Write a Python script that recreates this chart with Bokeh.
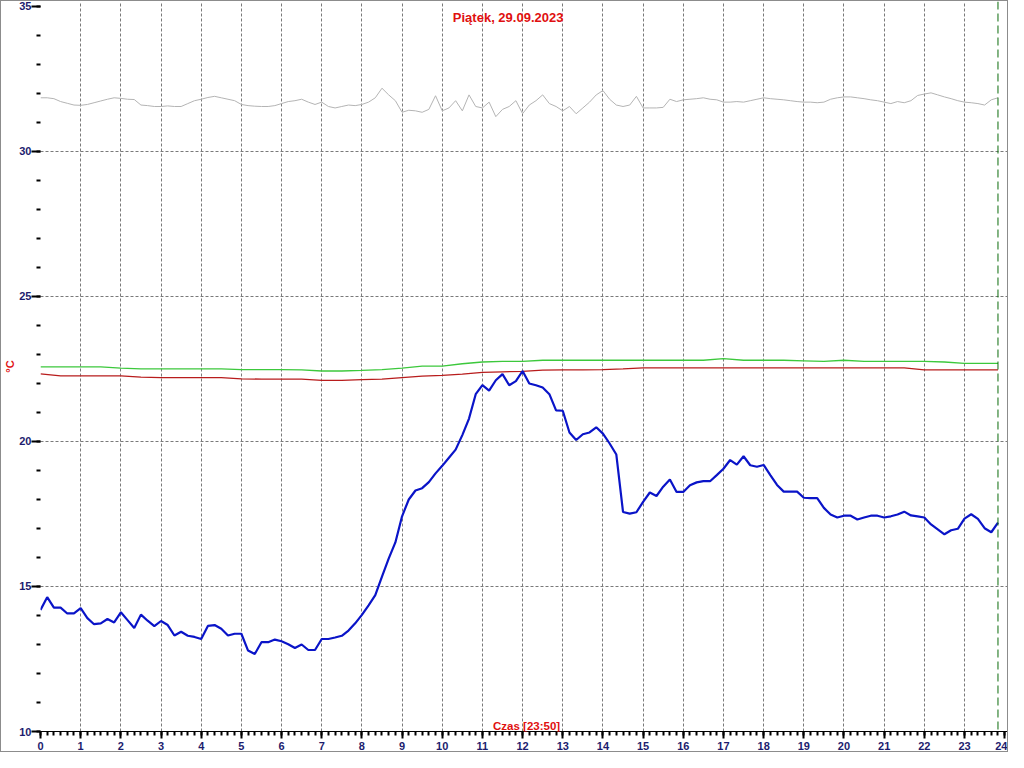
from bokeh.plotting import figure
from bokeh.models import SingleIntervalTicker, FixedTicker, Span, Label, Range1d, Grid
from bokeh.embed import file_html
from bokeh.resources import INLINE

# ---- data -------------------------------------------------------------
# 10-minute readings, 00:00 .. 23:50
times = [i / 6 for i in range(144)]

blue_temp = [
    14.19, 14.63, 14.27, 14.27, 14.07, 14.07,
    14.25, 13.91, 13.70, 13.73, 13.88, 13.76,
    14.11, 13.84, 13.57, 14.03, 13.82, 13.63,
    13.81, 13.67, 13.31, 13.44, 13.30, 13.26,
    13.19, 13.64, 13.67, 13.54, 13.31, 13.37,
    13.37, 12.79, 12.67, 13.08, 13.08, 13.17,
    13.11, 13.01, 12.88, 13.00, 12.81, 12.81,
    13.19, 13.19, 13.24, 13.30, 13.48, 13.73,
    14.02, 14.35, 14.70, 15.34, 15.96, 16.52,
    17.42, 18.00, 18.31, 18.39, 18.60, 18.90,
    19.16, 19.44, 19.72, 20.22, 20.79, 21.63,
    21.94, 21.75, 22.11, 22.32, 21.94, 22.08,
    22.43, 22.00, 21.94, 21.86, 21.63, 21.07,
    21.06, 20.31, 20.05, 20.25, 20.31, 20.49,
    20.27, 19.93, 19.55, 17.57, 17.51, 17.56,
    17.92, 18.24, 18.12, 18.44, 18.69, 18.26,
    18.26, 18.49, 18.59, 18.63, 18.63, 18.84,
    19.06, 19.36, 19.20, 19.49, 19.18, 19.13,
    19.19, 18.84, 18.50, 18.27, 18.27, 18.27,
    18.06, 18.05, 18.05, 17.71, 17.48, 17.38,
    17.44, 17.44, 17.31, 17.38, 17.44, 17.44,
    17.38, 17.42, 17.48, 17.58, 17.45, 17.42,
    17.38, 17.14, 16.97, 16.80, 16.94, 16.99,
    17.34, 17.49, 17.33, 17.01, 16.87, 17.20,
]

gray_temp = [
    31.85, 31.85, 31.82, 31.72, 31.66, 31.60,
    31.59, 31.62, 31.68, 31.74, 31.80, 31.85,
    31.83, 31.80, 31.79, 31.60, 31.58, 31.55,
    31.55, 31.57, 31.55, 31.55, 31.65, 31.75,
    31.80, 31.86, 31.90, 31.85, 31.80, 31.75,
    31.62, 31.58, 31.56, 31.55, 31.55, 31.58,
    31.65, 31.72, 31.75, 31.80, 31.70, 31.62,
    31.70, 31.55, 31.50, 31.55, 31.60, 31.58,
    31.62, 31.70, 31.85, 32.18, 31.95, 31.75,
    31.35, 31.42, 31.40, 31.35, 31.45, 31.92,
    31.40, 31.50, 31.75, 31.40, 31.95, 31.55,
    31.50, 31.70, 31.20, 31.45, 31.55, 31.75,
    31.30, 31.60, 31.75, 31.95, 31.65, 31.55,
    31.40, 31.55, 31.30, 31.50, 31.70, 31.95,
    32.10, 31.80, 31.60, 31.55, 31.60, 31.90,
    31.50, 31.50, 31.50, 31.52, 31.80, 31.72,
    31.78, 31.80, 31.82, 31.85, 31.80, 31.78,
    31.70, 31.70, 31.72, 31.70, 31.75, 31.80,
    31.85, 31.82, 31.80, 31.78, 31.75, 31.72,
    31.70, 31.70, 31.68, 31.70, 31.80, 31.85,
    31.88, 31.88, 31.85, 31.82, 31.78, 31.75,
    31.70, 31.65, 31.72, 31.68, 31.75, 31.93,
    31.98, 32.02, 31.95, 31.88, 31.82, 31.75,
    31.70, 31.68, 31.65, 31.60, 31.78, 31.85,
]

# half-hourly readings for the two slow series (last one at 23:50)
slow_times = [i * 0.5 for i in range(48)] + [23 + 5 / 6]

green_temp = [
    22.57, 22.57, 22.57, 22.57, 22.53, 22.50, 22.50, 22.50,
    22.50, 22.50, 22.48, 22.48, 22.48, 22.47, 22.43, 22.43,
    22.45, 22.48, 22.53, 22.60, 22.60, 22.68, 22.74, 22.76,
    22.76, 22.80, 22.80, 22.80, 22.80, 22.80, 22.80, 22.80,
    22.80, 22.80, 22.86, 22.80, 22.80, 22.80, 22.78, 22.76,
    22.80, 22.76, 22.76, 22.76, 22.76, 22.74, 22.69, 22.69,
    22.69,
]

red_temp = [
    22.33, 22.26, 22.26, 22.26, 22.26, 22.22, 22.20, 22.20,
    22.20, 22.20, 22.16, 22.15, 22.15, 22.15, 22.11, 22.11,
    22.13, 22.15, 22.20, 22.25, 22.28, 22.32, 22.38, 22.40,
    22.42, 22.46, 22.47, 22.47, 22.48, 22.50, 22.54, 22.54,
    22.54, 22.54, 22.54, 22.54, 22.54, 22.54, 22.54, 22.54,
    22.54, 22.54, 22.54, 22.54, 22.47, 22.47, 22.47, 22.47,
    22.47,
]

title_text = "Piątek, 29.09.2023"
x_title = "Czas [23:50]"
y_title = "°C"

# ---- figure -----------------------------------------------------------
FONT = "Liberation Sans"
NAVY = "#1c1c6e"
RED = "#e01010"

p = figure(width=1008, height=752, output_backend="svg", toolbar_location=None,
           x_range=Range1d(0, 24.12), y_range=Range1d(10, 35.17),
           min_border_left=30, min_border_right=0, min_border_top=0,
           min_border_bottom=22)
p.styles = {"border": "1px solid #8c8c8c"}
p.outline_line_color = None
p.background_fill_color = "white"
p.border_fill_color = "white"

# axes
p.xaxis.ticker = SingleIntervalTicker(interval=1, num_minor_ticks=6)
p.yaxis.ticker = SingleIntervalTicker(interval=5, num_minor_ticks=5)
for ax in (p.xaxis, p.yaxis):
    ax.major_label_text_font = FONT
    ax.major_label_text_font_style = "bold"
    ax.major_label_text_font_size = "11px"
    ax.major_label_text_color = NAVY
    ax.major_tick_line_color = "black"
    ax.minor_tick_line_color = "black"
    ax.major_tick_line_width = 2
    ax.minor_tick_line_width = 2
    ax.major_tick_in = 0
    ax.minor_tick_in = 0
p.xaxis.major_tick_out = 7
p.xaxis.minor_tick_out = 4
p.xaxis.axis_line_color = "black"
p.xaxis.axis_line_width = 1
p.xaxis.major_label_standoff = 3
p.yaxis.major_tick_out = 9
p.yaxis.minor_tick_out = 4
p.yaxis.axis_line_color = None
p.yaxis.major_label_standoff = 0
p.yaxis.axis_label = y_title
p.yaxis.axis_label_text_font = FONT
p.yaxis.axis_label_text_font_style = "bold"
p.yaxis.axis_label_text_font_size = "11px"
p.yaxis.axis_label_text_color = RED
p.yaxis.axis_label_standoff = 0

# grids
p.xgrid.visible = False
p.ygrid.visible = False
p.add_layout(Grid(dimension=0, ticker=FixedTicker(ticks=list(range(1, 24))),
                  grid_line_color="#7a7a7a", grid_line_dash="3 2", grid_line_width=1))
p.add_layout(Grid(dimension=1, ticker=FixedTicker(ticks=[15, 20, 25, 30]),
                  grid_line_color="#7a7a7a", grid_line_dash="3 2", grid_line_width=1))

# series
p.line(times, gray_temp, line_color="#b4b4b4", line_width=1)
p.line(slow_times, green_temp, line_color="#3cc83c", line_width=1.3)
p.line(slow_times, red_temp, line_color="#b81c1c", line_width=1.3)
p.line(times, blue_temp, line_color="#0a14c8", line_width=2.2)

# current-time marker
p.add_layout(Span(location=times[-1], dimension="height", line_color="#0a6a0a",
                  line_dash="8 4", line_width=1))

# texts
p.add_layout(Label(x=11.64, y=34.61, text=title_text, text_font=FONT,
                   text_font_style="bold", text_font_size="13px", text_color=RED,
                   text_align="center", text_baseline="middle"))
p.add_layout(Label(x=12.1, y=10.2, text=x_title, text_font=FONT,
                   text_font_style="bold", text_font_size="11.5px", text_color=RED,
                   text_align="center", text_baseline="middle"))

open("out.html", "w").write(file_html(p, INLINE))
